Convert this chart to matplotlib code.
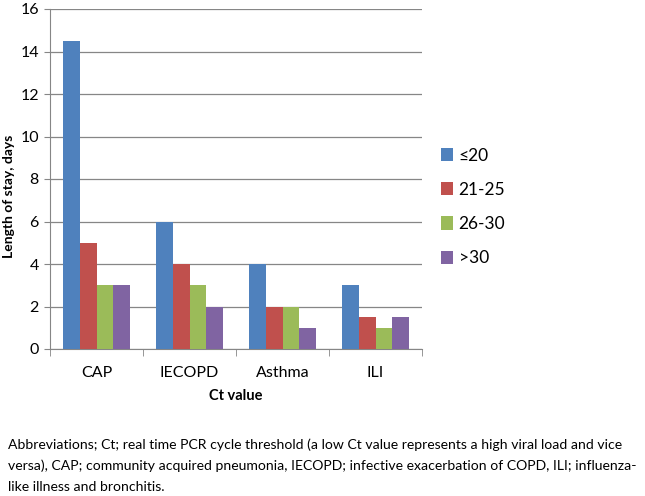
import numpy as np
import matplotlib
matplotlib.use("Agg")
import matplotlib.pyplot as plt

plt.rcParams['font.family'] = ['Lato', 'DejaVu Sans']

# data
categories = ['CAP', 'IECOPD', 'Asthma', 'ILI']
groups = ['≤20', '21-25', '26-30', '>30']
le20 = [14.5, 6, 4, 3]
ct21_25 = [5, 4, 2, 1.5]
ct26_30 = [3, 3, 2, 1]
gt30 = [3, 2, 1, 1.5]
series = [le20, ct21_25, ct26_30, gt30]
colors = ['#4F81BD', '#C0504D', '#9BBB59', '#8064A2']

caption = ("Abbreviations; Ct; real time PCR cycle threshold (a low Ct value represents a high viral load and vice\n"
           "versa), CAP; community acquired pneumonia, IECOPD; infective exacerbation of COPD, ILI; influenza-\n"
           "like illness and bronchitis.")

fig = plt.figure(figsize=(6.45, 4.96), dpi=100)
ax = fig.add_axes([50 / 645, 1 - 349 / 496, 372 / 645, 340 / 496])

x = np.arange(len(categories))
w = 0.18
for i, (vals, name, c) in enumerate(zip(series, groups, colors)):
    ax.bar(x + (i - 1.5) * w, vals, w, color=c, label=name, zorder=3)

ax.set_xlim(-0.5, len(categories) - 0.5)
ax.set_ylim(0, 16)
ax.set_yticks(range(0, 17, 2))
ax.set_xticks(x)
ax.set_xticklabels(categories, fontsize=11.5)
ax.set_xticks(np.arange(-0.5, len(categories), 1), minor=True)
ax.tick_params(axis='x', which='major', length=0, pad=12)
ax.tick_params(axis='x', which='minor', length=5, color='#868686', direction='out')
ax.tick_params(axis='y', length=4, color='#868686', labelsize=11.5, pad=4)
ax.yaxis.grid(True, color='#868686', linewidth=0.9, zorder=0)

for s in ['top', 'right']:
    ax.spines[s].set_visible(False)
for s in ['left', 'bottom']:
    ax.spines[s].set_color('#868686')

ax.set_ylabel('Length of stay, days', fontsize=10, fontweight='bold')
ax.yaxis.set_label_coords(-0.093, 0.45)
ax.set_xlabel('Ct value', fontsize=10.5, fontweight='bold', labelpad=7)

ax.legend(loc='center left', bbox_to_anchor=(1.01, 0.418), frameon=False,
          fontsize=12.5, handlelength=0.65, handleheight=0.8, handletextpad=0.35,
          labelspacing=1.05)

fig.text(8 / 645, 1 - 438 / 496, caption, fontsize=10.1, va='top', ha='left',
         linespacing=1.85)

fig.savefig('out.png', dpi=100)
